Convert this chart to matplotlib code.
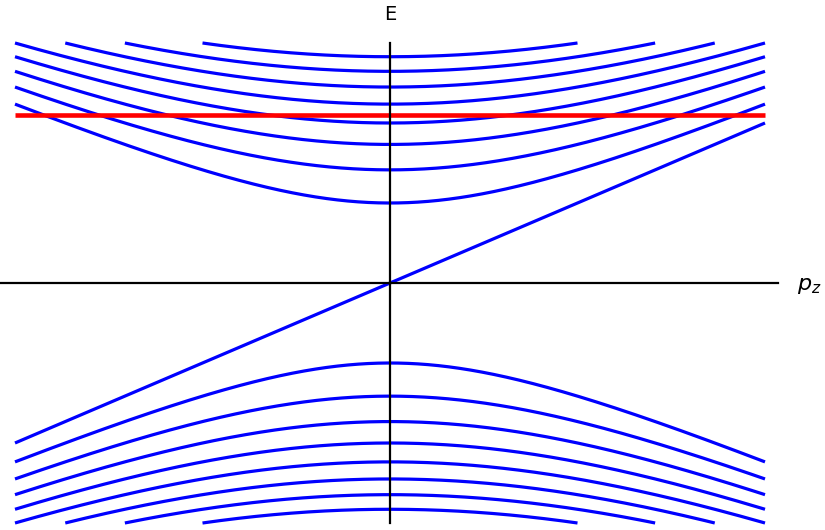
import numpy as np
import matplotlib
matplotlib.use("Agg")
import matplotlib.pyplot as plt

# Landau-level dispersion parameters
landau_levels = [1, 2, 3, 4, 5, 6, 7, 8]   # n of massive levels shown
velocity = 2.0                             # slope of chiral (n=0) branch
fermi_energy = 2.1                         # red horizontal line
p_range = [-1.0, 1.0]                      # momentum window
e_max = 3.0                                # energy window (curves cut here)

fig = plt.figure(figsize=(8.25, 5.3), dpi=100)
ax = fig.add_axes([0, 0, 1, 1])
ax.set_xlim(-1.04, 1.16)
ax.set_ylim(-3.0875, 3.5375)
ax.axis("off")

p = np.linspace(p_range[0], p_range[1], 4001)


def cut(e):
    e = e.copy()
    e[np.abs(e) > e_max] = np.nan
    return e


for n in landau_levels:
    e = np.sqrt(n + (velocity * p) ** 2)
    for sgn in (1, -1):
        ax.plot(p, cut(sgn * e), color=(0, 0, 1), lw=2.3, solid_capstyle="butt", zorder=2)
# chiral zero mode
ax.plot(p, cut(velocity * p), color=(0, 0, 1), lw=2.3, solid_capstyle="butt", zorder=2)

# Fermi level
ax.plot(p_range, [fermi_energy, fermi_energy], color=(1, 0, 0), lw=3.3,
        solid_capstyle="butt", zorder=3)

# axes lines
ax.plot([-1.04, 1.035], [0, 0], color="black", lw=1.6, zorder=4)
ax.plot([0, 0], [e_max, -e_max], color="black", lw=1.6, zorder=4)

ax.text(0, 3.35, "E", ha="center", va="center", fontsize=14)
ax.text(1.085, -0.04, r"$p_z$", ha="left", va="center", fontsize=16)

fig.savefig("out.png", dpi=100)
